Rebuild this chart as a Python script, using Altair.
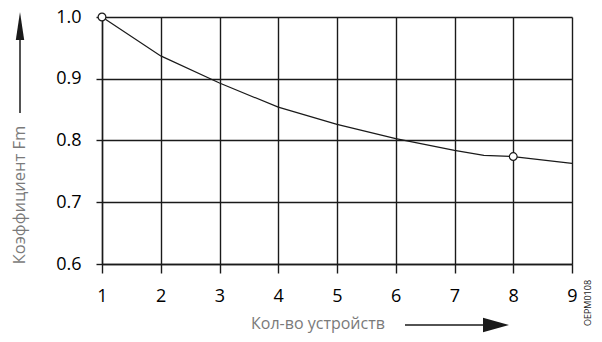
import altair as alt
import pandas as pd

# --- data ---
devices = [1, 2, 3, 4, 5, 6, 7, 7.5, 8, 9]
factor = [1.0, 0.937, 0.893, 0.854, 0.826, 0.803, 0.784, 0.776, 0.774, 0.763]
marker_x = [1, 8]
marker_y = [1.0, 0.774]
x_ticks = [1, 2, 3, 4, 5, 6, 7, 8, 9]
y_ticks = [0.6, 0.7, 0.8, 0.9, 1.0]
y_title = "Коэффициент Fm"
x_title = "Кол-во устройств"
code_label = "OEPM0108"

FONT = "Open Sans"
INK = "#1a1a1a"
GREY = "#7a7a7a"

df = pd.DataFrame({"x": devices, "y": factor})
mk = pd.DataFrame({"x": marker_x, "y": marker_y})
one = pd.DataFrame({"a": [0]})

xscale = alt.Scale(domain=[1, 9], nice=False, zero=False)
yscale = alt.Scale(domain=[0.6, 1.0], nice=False, zero=False)

xaxis = alt.Axis(values=x_ticks, format="d", title=None, grid=True,
                 gridColor=INK, gridWidth=1.4, gridOpacity=1,
                 domainColor=INK, domainWidth=1.4,
                 tickColor=INK, tickSize=9, tickWidth=1.4,
                 labelFontSize=18, labelFont=FONT, labelColor="black",
                 labelPadding=14, labelFlush=False)
yaxis = alt.Axis(values=y_ticks, format=".1f", title=None, grid=True,
                 gridColor=INK, gridWidth=1.4, gridOpacity=1,
                 domainColor=INK, domainWidth=1.4,
                 tickColor=INK, tickSize=6, tickWidth=1.4,
                 labelFontSize=18, labelFont=FONT, labelColor="black",
                 labelPadding=15, labelFlush=False)

line = alt.Chart(df).mark_line(color=INK, strokeWidth=1.2).encode(
    x=alt.X("x:Q", scale=xscale, axis=xaxis),
    y=alt.Y("y:Q", scale=yscale, axis=yaxis),
)
pts = alt.Chart(mk).mark_point(shape="circle", filled=True, fill="white",
                               stroke=INK, strokeWidth=1.2, size=60,
                               opacity=1).encode(x="x:Q", y="y:Q")

anno = alt.Chart(one)
ytitle = anno.mark_text(text=y_title, angle=270, font=FONT, fontSize=16.5,
                        color=GREY, align="center", baseline="middle").encode(
    x=alt.value(-82), y=alt.value(178))
xtitle = anno.mark_text(text=x_title, font=FONT, fontSize=16, color=GREY,
                        align="center", baseline="middle").encode(
    x=alt.value(216), y=alt.value(307))
code = anno.mark_text(text=code_label, angle=270, font=FONT, fontSize=9,
                      color=INK, align="center", baseline="middle").encode(
    x=alt.value(486), y=alt.value(286))

v_shaft = anno.mark_rule(color=INK, strokeWidth=1.5).encode(
    x=alt.value(-82), y=alt.value(22), y2=alt.value(96))
v_head = anno.mark_point(shape="M0,-1L0.3,1L-0.3,1Z", filled=True, color=INK,
                         size=784, opacity=1).encode(
    x=alt.value(-82), y=alt.value(9))
h_shaft = anno.mark_rule(color=INK, strokeWidth=1.5).encode(
    x=alt.value(303), x2=alt.value(382), y=alt.value(308))
h_head = anno.mark_point(shape="M1,0L-1,-0.55L-1,0.55Z", filled=True,
                         color=INK, size=676, opacity=1).encode(
    x=alt.value(394), y=alt.value(308))

chart = alt.layer(line, pts, ytitle, xtitle, code, v_shaft, v_head,
                  h_shaft, h_head).properties(
    width=470, height=247,
    autosize=alt.AutoSizeParams(type="none"),
    padding={"left": 94, "top": 9, "right": 22, "bottom": 70},
    background="white",
).configure_view(strokeWidth=0)

chart.save("out.html", embed_options={"renderer": "svg", "actions": False})
